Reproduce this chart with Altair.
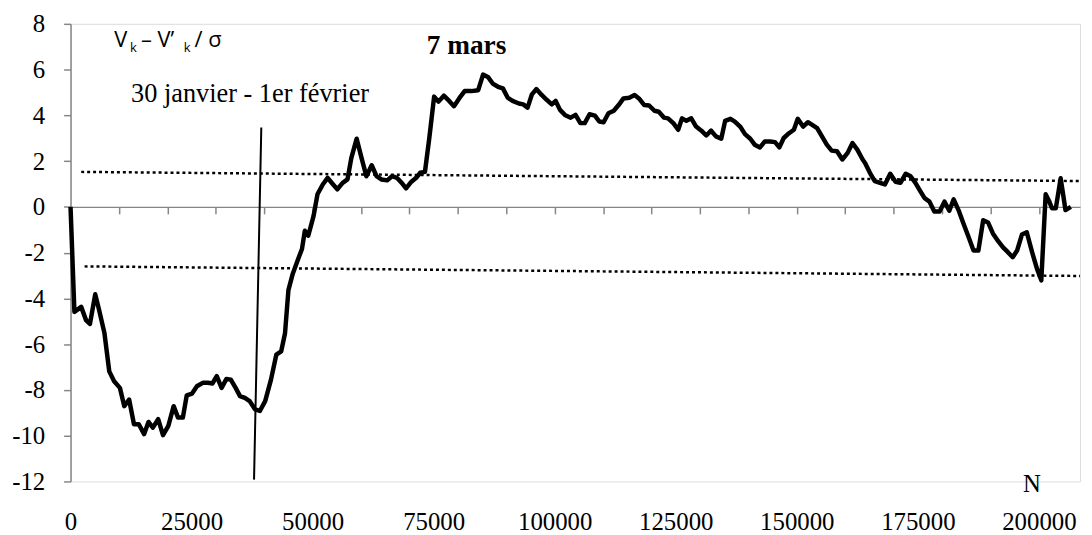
import altair as alt
import pandas as pd

# ---- data ----
N_VALUES = [0, 800, 2200, 3200, 4000, 5100, 5900, 7000, 8000, 9000, 10200, 11100, 12100,
            13100, 14100, 15200, 16100, 17000, 18100, 19100, 20200, 21300, 22200, 23200,
            24000, 25100, 26100, 27300, 28400, 29300, 30200, 31200, 32200, 33100, 34100,
            35000, 36000, 37000, 38100, 39100, 40200, 41400, 42500, 43500, 44300, 45000,
            45900, 46900, 47800, 48400, 49100, 50200, 51000, 52100, 53100, 54100, 55100,
            56200, 57200, 58000, 59100, 60100, 61100, 62200, 63200, 64200, 65400, 66400,
            67400, 68400, 69300, 70400, 71400, 72200, 73200, 74100, 75100, 76000, 77100,
            78200, 79200, 80300, 81400, 82800, 84200, 85200, 86200, 87200, 88300, 89300,
            90300, 91300, 92600, 93500, 94400, 95300, 96200, 97300, 98400, 99400, 100200,
            101100, 102100, 103300, 104300, 105300, 106200, 107200, 108300, 109200, 110100,
            111100, 112200, 113200, 114200, 115400, 116500, 117400, 118500, 119500, 120600,
            121500, 122600, 123400, 124500, 125500, 126300, 127200, 128200, 129200, 130300,
            131300, 132300, 133300, 134400, 135200, 136300, 137200, 138300, 139300, 140400,
            141300, 142400, 143400, 144500, 145500, 146400, 147300, 148400, 149400, 150200,
            151300, 152300, 153100, 154200, 155200, 156200, 157200, 158300, 159400, 160500,
            161500, 162500, 163600, 164100, 165100, 166100, 167200, 168200, 169300, 170400,
            171400, 172500, 173500, 174500, 175500, 176400, 177400, 178400, 179500, 180500,
            181500, 182400, 183400, 184400, 185500, 186500, 187500, 188500, 189500, 190500,
            191600, 192600, 193600, 194600, 195500, 196500, 197500, 198600, 199600, 200500,
            201400, 202100, 202700, 203500, 204500, 205500, 206600]
V_VALUES = [0, -4.59, -4.37, -4.95, -5.12, -3.82, -4.51, -5.51, -7.19, -7.62, -7.91, -8.71, -8.42,
            -9.5, -9.5, -9.93, -9.4, -9.65, -9.28, -9.98, -9.57, -8.71, -9.21, -9.21,
            -8.24, -8.16, -7.84, -7.69, -7.69, -7.72, -7.4, -7.91, -7.52, -7.55, -7.91,
            -8.27, -8.35, -8.49, -8.85, -8.92, -8.49, -7.55, -6.46, -6.32, -5.52, -3.64,
            -2.92, -2.34, -1.84, -1.04, -1.26, -0.39, 0.55, 0.98, 1.27, 1.01, 0.77,
            1.05, 1.2, 2.14, 2.98, 2.14, 1.34, 1.82, 1.34, 1.2, 1.16, 1.34,
            1.27, 1.05, 0.81, 1.1, 1.27, 1.49, 1.53, 3.01, 4.82, 4.6, 4.86,
            4.63, 4.4, 4.75, 5.06, 5.06, 5.1, 5.78, 5.68, 5.39, 5.25, 5.18,
            4.77, 4.63, 4.52, 4.48, 4.34, 4.92, 5.15, 4.89, 4.67, 4.48, 4.63,
            4.24, 4.02, 3.9, 4.02, 3.66, 3.66, 4.05, 3.99, 3.73, 3.7,
            4.09, 4.2, 4.45, 4.74, 4.77, 4.89, 4.74, 4.45, 4.43, 4.2,
            4.16, 3.9, 3.87, 3.66, 3.37, 3.87, 3.76, 3.87, 3.51, 3.33,
            3.12, 3.33, 3.08, 2.98, 3.76, 3.85, 3.73, 3.51, 3.18, 2.98,
            2.72, 2.6, 2.86, 2.86, 2.83, 2.6, 3.01, 3.22, 3.37, 3.85,
            3.51, 3.7, 3.59, 3.44, 3.08, 2.72, 2.46, 2.43, 2.07, 2.36,
            2.79, 2.5, 2.07, 1.92, 1.49, 1.13, 1.05, 0.98, 1.45, 1.1,
            1.05, 1.45, 1.34, 1.05, 0.69, 0.38, 0.23, -0.2, -0.2, 0.23,
            -0.17, 0.33, -0.14, -0.72, -1.33, -1.91, -1.91, -0.58, -0.68, -1.16,
            -1.5, -1.77, -1.98, -2.2, -1.91, -1.21, -1.11, -1.98, -2.7, -3.21,
            0.55, 0.26, -0.06, -0.06, 1.25, -0.14, 0]

UPPER_X = [2200, 208500]
UPPER_Y = [1.53, 1.13]
LOWER_X = [2900, 208500]
LOWER_Y = [-2.6, -3.02]
MARK_X = [37900, 39400]
MARK_Y = [-11.92, 3.47]

X_TICKS = list(range(0, 210000, 10000))
X_LABELS = [0, 25000, 50000, 75000, 100000, 125000, 150000, 175000, 200000]
Y_TICKS = list(range(-12, 10, 2))

# annotations
SERIF_TEXT = ["30 janvier - 1er février", "N"]
SERIF_X = [12500, 198566]
SERIF_Y = [4.6, -12.45]
SERIF_ALIGN = ["left", "center"]
BOLD_TEXT = ["7 mars"]
BOLD_X = [73566]
BOLD_Y = [6.68]
SANS_TEXT = ["V", "– V’", "/ σ"]
SANS_X = [9016, 14549, 25615]
SANS_Y = [6.98, 6.98, 6.98]
SUB_TEXT = ["k", "k"]
SUB_X = [12295, 23361]
SUB_Y = [6.77, 6.77]

# ---- build ----
main_df = pd.DataFrame({"n": N_VALUES, "v": V_VALUES})
dot_df = pd.DataFrame({
    "n": UPPER_X + LOWER_X,
    "v": UPPER_Y + LOWER_Y,
    "g": ["haut", "haut", "bas", "bas"],
})
mark_df = pd.DataFrame({"n": MARK_X, "v": MARK_Y})

xscale = alt.Scale(domain=[0, 208500], nice=False, zero=False)
yscale = alt.Scale(domain=[-12, 8], nice=False, zero=False)

GRAY = "#868686"
y_axis = alt.Axis(values=Y_TICKS, domain=True, domainColor=GRAY, domainWidth=1.5,
                  ticks=True, tickSize=7, tickColor=GRAY, tickWidth=1.5, grid=False,
                  labelFont="Liberation Serif", labelFontSize=25, labelColor="black",
                  labelPadding=19, labelExpr="datum.value + ''", labelFlush=False,
                  labelOverlap=False, title=None)
axis_zero = alt.Axis(orient="bottom", offset=-276.6, values=X_TICKS, labels=False,
                     ticks=True, tickSize=7, tickColor=GRAY, tickWidth=1.5,
                     domain=True, domainColor=GRAY, domainWidth=1.5, grid=False, title=None)
axis_labels = alt.Axis(orient="bottom", values=X_LABELS, domain=False, ticks=False, grid=False,
                       labelFont="Liberation Serif", labelFontSize=25, labelColor="black",
                       labelPadding=28, labelExpr="datum.value + ''", labelFlush=False,
                       labelOverlap=False, title=None)

Y = alt.Y("v:Q", scale=yscale, axis=y_axis)

line = alt.Chart(main_df).mark_line(color="black", strokeWidth=4.5, strokeJoin="round").encode(
    x=alt.X("n:Q", scale=xscale, axis=axis_zero), y=Y)

dots = alt.Chart(dot_df).mark_line(color="black", strokeWidth=2.5, strokeDash=[3, 3]).encode(
    x=alt.X("n:Q", scale=xscale, axis=axis_labels), y=Y, detail="g:N")

vline = alt.Chart(mark_df).mark_line(color="black", strokeWidth=2).encode(
    x=alt.X("n:Q", scale=xscale, axis=None), y=Y)

serif_df = pd.DataFrame({"n": SERIF_X, "v": SERIF_Y, "t": SERIF_TEXT, "a": SERIF_ALIGN})
serif_left = alt.Chart(serif_df[serif_df.a == "left"]).mark_text(
    font="Liberation Serif", fontSize=26.5, align="left", baseline="alphabetic", color="black").encode(
    x=alt.X("n:Q", scale=xscale, axis=None), y=Y, text="t:N")
serif_center = alt.Chart(serif_df[serif_df.a == "center"]).mark_text(
    font="Liberation Serif", fontSize=25, align="center", baseline="alphabetic", color="black").encode(
    x=alt.X("n:Q", scale=xscale, axis=None), y=Y, text="t:N")

bold = alt.Chart(pd.DataFrame({"n": BOLD_X, "v": BOLD_Y, "t": BOLD_TEXT})).mark_text(
    font="Liberation Serif", fontSize=27.5, fontWeight="bold", align="left", baseline="alphabetic",
    color="black").encode(x=alt.X("n:Q", scale=xscale, axis=None), y=Y, text="t:N")

sans = alt.Chart(pd.DataFrame({"n": SANS_X, "v": SANS_Y, "t": SANS_TEXT})).mark_text(
    font="Open Sans", fontSize=22, align="left", baseline="alphabetic", color="black").encode(
    x=alt.X("n:Q", scale=xscale, axis=None), y=Y, text="t:N")

sub = alt.Chart(pd.DataFrame({"n": SUB_X, "v": SUB_Y, "t": SUB_TEXT})).mark_text(
    font="Open Sans", fontSize=13, align="left", baseline="alphabetic", color="black").encode(
    x=alt.X("n:Q", scale=xscale, axis=None), y=Y, text="t:N")

chart = alt.layer(line, dots, vline, serif_left, serif_center, bold, sans, sub).resolve_axis(
    x="independent").properties(
    width=1017, height=461,
    autosize=alt.AutoSizeParams(type="none"),
    padding={"left": 63, "top": 14, "right": 4, "bottom": 52},
).configure_view(stroke=None).configure(background="white")

chart.save("out.html", embed_options={"renderer": "svg", "actions": False})
